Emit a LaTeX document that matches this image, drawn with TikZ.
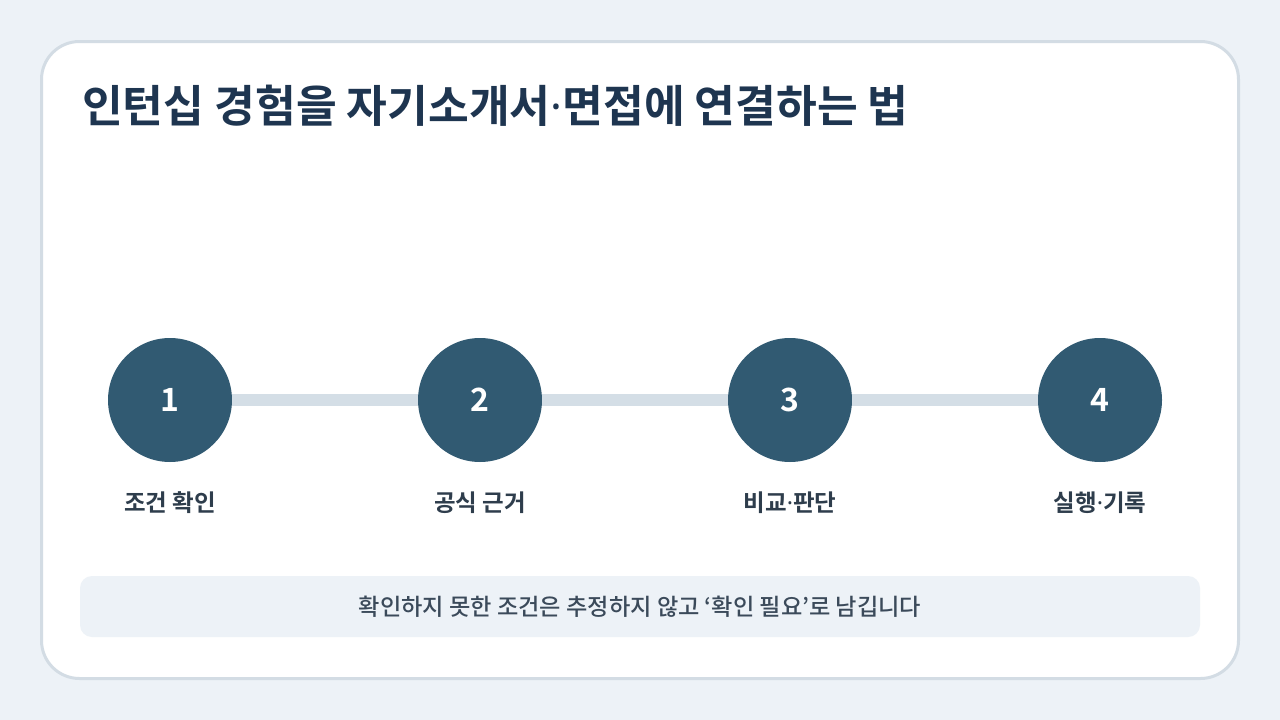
\documentclass[tikz,border=0pt]{standalone}
\usepackage{fontspec}
\setmainfont{Noto Sans CJK KR}[BoldFont={Noto Sans CJK KR Bold}]
\newfontfamily\medfont{Noto Sans CJK KR Medium}
\newfontfamily\dotfont{Noto Sans}
\newcommand{\mdot}{{\dotfont ·}}
\definecolor{bgc}{HTML}{EDF2F7}
\definecolor{cardline}{HTML}{D3DCE4}
\definecolor{circc}{HTML}{315A72}
\definecolor{linec}{HTML}{D4DEE6}
\definecolor{titlec}{HTML}{1E3550}
\definecolor{labc}{HTML}{2E3D4C}
\definecolor{notec}{HTML}{3B4A5A}
\tikzset{
  circ/.style={circle, fill=circc, minimum size=124pt, inner sep=0pt, text=white, font=\bfseries\fontsize{32}{36}\selectfont},
  conn/.style={draw=linec, line width=12pt},
  lab/.style={text=labc, font=\bfseries\fontsize{23.5}{28}\selectfont, inner sep=0pt},
  notebox/.style={fill=bgc, rounded corners=12pt, minimum width=1120pt, minimum height=61pt, text=notec, font=\medfont\fontsize{23.2}{26}\selectfont},
}
\begin{document}
\begin{tikzpicture}[x=1pt,y=-1pt]
\fill[bgc] (0,0) rectangle (1280,720);
\useasboundingbox (0,0) rectangle (1280,720);
\draw[cardline, line width=3pt, fill=white, rounded corners=38pt] (41.5,41.5) rectangle (1238.5,678.5);
\node[anchor=west, inner sep=0pt, text=titlec, font=\bfseries\fontsize{44.3}{50}\selectfont] (title) at (82,106) {인턴십 경험을 자기소개서\mdot 면접에 연결하는 법};
\node[circ] (c1) at (170,400) {1};
\node[circ] (c2) at (480,400) {2};
\node[circ] (c3) at (790,400) {3};
\node[circ] (c4) at (1100,400) {4};
\draw[conn] (c1) -- (c2);
\draw[conn] (c2) -- (c3);
\draw[conn] (c3) -- (c4);
\node[lab] (l1) at (170,503) {조건 확인};
\node[lab] (l2) at (480,503) {공식 근거};
\node[lab] (l3) at (790,503) {비교\mdot 판단};
\node[lab] (l4) at (1100,503) {실행\mdot 기록};
\node[notebox] (note) at (640,606.5) {확인하지 못한 조건은 추정하지 않고 ‘확인 필요’로 남깁니다};
\end{tikzpicture}
\end{document}
